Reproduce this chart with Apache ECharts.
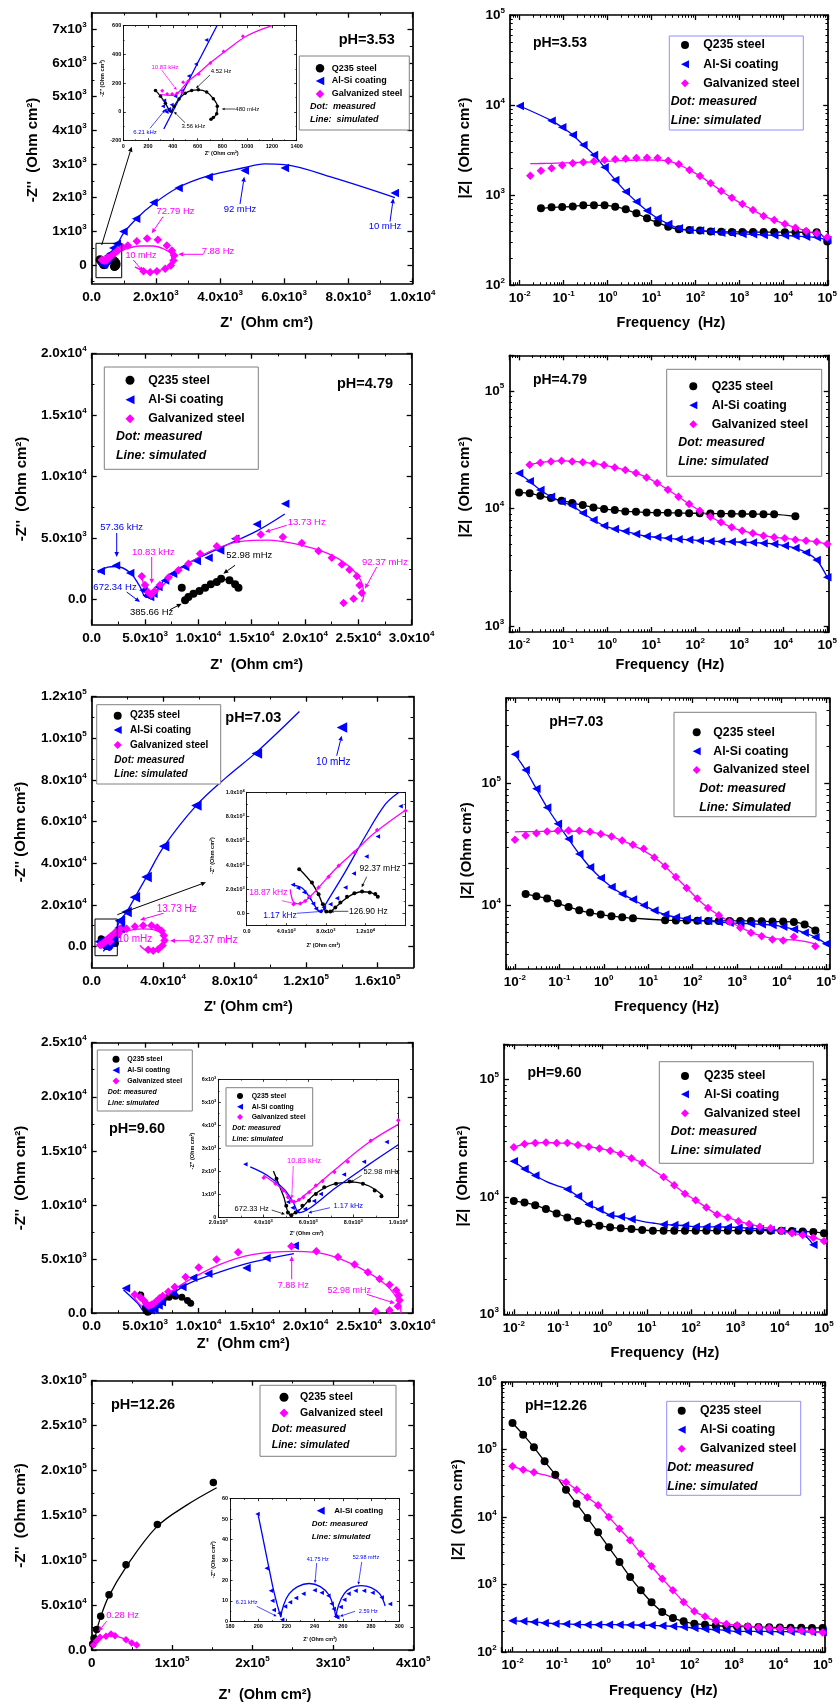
<!DOCTYPE html>
<html>
<head>
<meta charset="utf-8">
<script src="https://cdn.jsdelivr.net/npm/echarts@6.0.0/dist/echarts.min.js"></script>
<style>
html,body{margin:0;padding:0;background:#ffffff;}
#chart{width:840px;height:1704px;}
</style>
</head>
<body>
<div id="chart"></div>
<script>
// ================= DATA =================
// Frequencies of the EIS sweep (Hz), ascending
const FREQ = [0.01,0.0174,0.0304,0.053,0.0924,0.161,0.28,0.489,0.853,1.49,2.59,4.52,7.88,13.73,23.95,41.75,72.79,126.9,221.2,385.66,672.34,1170,2040,3560,6210,10830,18870,32900,57360,100000];

// ---- pH 3.53 Nyquist (inset: low impedance region) ----
const n1i_Q235 = [[260,150],[300,110],[340,60],[370,15],[385,5],[410,40],[450,90],[500,130],[552,150],[606,154],[673,139],[727,92],[759,39],[754,-12],[727,-39],[708,-51]];
const n1i_AlSi = [[330,80],[320,40],[335,10],[350,0],[370,20],[390,50],[420,110],[475,148],[528,250],[587,333],[670,500]];
const n1i_AlSi_sim = [[327,-119],[450,88],[600,340],[756,600]];
const n1i_Galv = [[314,148],[354,125],[394,125],[434,130],[475,137],[483,206],[523,213],[609,264],[703,340],[810,421],[966,526]];
const n1i_Galv_sim = [[290,120],[400,115],[450,140],[520,210],[600,265],[700,340],[850,440],[1000,530],[1200,600]];
const n1_AlSi = [[520,277],[780,626],[990,992],[1384,1370],[1926,1856],[2707,2282],[3645,2610],[4770,2809],[6020,2878],[9447,2133]];
const n1_AlSi_sim = [[290,-100],[500,250],[800,620],[1000,950],[1400,1380],[1950,1830],[2700,2300],[3650,2650],[4700,2880],[5400,3000],[6000,2980],[7500,2600],[9450,2000]];
const n1_Galv = [[781,405],[1125,575],[1406,703],[1728,784],[2062,745],[2344,575],[2500,426],[2572,277],[2550,128],[2469,-21],[2291,-119],[2031,-190],[1822,-220],[1614,-190]];
const n1_Galv_sim = [[300,130],[700,330],[1100,480],[1500,560],[1900,560],[2250,470],[2480,300],[2500,100],[2400,-50],[2150,-160],[1850,-200],[1550,-150],[1350,-60]];

// ---- pH 3.53 Bode |Z| per FREQ index ----
const b1_Q235 = [null,null,711,730,737,745,767,767,767,741,693,625,551,493,445,416,408,402,392,390,389,388,388,387,387,386,386,385,385,305];
const b1_AlSi = [9750,null,null,6700,5650,4640,3590,2780,2030,1470,1090,843,670,551,477,427,408,402,392,381,375,369,366,360,357,355,350,344,339,316];
const b1_Galv = [null,1640,1860,1977,2140,2250,2306,2366,2449,2490,2520,2577,2595,2577,2405,2192,1897,1626,1349,1108,933,794,681,585,527,476,434,398,375,339];
const b1_Galv_sim = [null,2230,2240,2250,2270,2290,2310,2330,2360,2390,2420,2440,2450,2440,2380,2180,1900,1620,1350,1110,930,790,680,585,525,475,434,398,370,335];

// ---- pH 4.79 Nyquist ----
const n3_Q235 = [[8443,976],[8756,-54],[9068,217],[9537,488],[10100,705],[10632,976],[11163,1247],[11726,1436],[12133,1707],[12915,1572],[13446,1247],[13759,976]];
const n3_Q235_sim = [[8750,-100],[9500,500],[10600,1000],[11700,1450],[12500,1650],[13300,1350],[13760,950]];
const n3_AlSi = [[844,2330],[2280,2790],[3600,2170],[4850,760],[5160,350],[5470,220],[5780,490],[6250,1030],[6880,1570],[7630,2110],[8760,2660],[9850,3140],[10950,3420],[12040,4010],[13450,4960],[15480,6130],[18140,7810]];
const n3_AlSi_sim = [[600,2200],[1500,2650],[2300,2700],[3600,2200],[4500,1100],[5100,200],[5600,250],[7000,1800],[9000,2950],[12000,4200],[15500,5600],[18100,6970]];
const n3_Galv = [[4690,1900],[5000,1200],[5300,600],[5550,400],[5900,700],[6400,1200],[7200,1800],[8130,2390],[9070,2930],[10160,3740],[11730,4340],[13600,4960],[15850,5310],[17920,5100],[19700,4610],[21260,3960],[22510,3420],[23450,2870],[24170,2440],[24860,1900],[25110,1170],[25330,540],[24550,80],[23610,-270]];
const n3_Galv_sim = [[4700,1900],[5300,400],[5700,450],[8000,2300],[11000,3900],[14000,4750],[16500,4850],[19000,4550],[22000,3800],[24000,2800],[25200,1600],[25500,300],[25300,-200]];

// ---- pH 4.79 Bode ----
const b2_Q235 = [13740,13490,12880,12300,11700,11170,10740,10260,9940,9750,9490,9420,9300,9260,9230,9200,9160,9140,9120,9080,9060,9040,9000,8980,8960,null,8610,null,null,null];
const b2_AlSi = [19950,17060,14400,12640,11450,10590,9180,8020,7180,6730,6430,6100,5830,5720,5610,5520,5460,5360,5300,5270,5240,5200,5170,5100,5030,4860,4640,4260,3670,2620];
const b2_Galv = [null,23600,24560,25180,25530,25180,24730,24230,23460,22410,21260,20050,18430,16500,14490,12640,10960,9620,8550,7660,6950,6510,6180,5900,5720,5610,5460,5360,5240,5010];

// ---- pH 7.03 Nyquist (inset) ----
const n5i_Q235 = [[5307,3664],[6591,2562],[7267,1598],[7706,771],[8044,165],[8450,165],[8957,496],[9464,909],[10140,1378],[10884,1681],[11661,1818],[12438,1736],[13000,1620],[13250,1380]];
const n5i_Q235_sim = [[5300,3700],[6600,2500],[7300,1500],[7800,500],[8100,100],[8600,250],[9500,900],[10500,1500],[11600,1800],[12500,1750],[13250,1400]];
const n5i_AlSi = [[4660,2370],[5200,2100],[5800,1750],[6300,1300],[6700,800],[7000,400],[7400,200],[7800,500],[8450,770],[9130,1270],[9970,2150],[10820,3310],[12100,4710],[13250,6360],[15550,8840]];
const n5i_AlSi_sim = [[4660,2370],[5600,2100],[6400,1300],[7000,500],[7500,100],[8000,800],[10000,3500],[12000,6400],[14000,9000],[15400,10000]];
const n5i_Galv = [[4732,771],[5408,827],[5915,1047],[6354,1378],[7267,2149],[8281,3031],[9295,3940],[10884,5042],[13182,6888],[16055,8486]];
const n5i_Galv_sim = [[4400,2000],[4700,1000],[5200,800],[6000,1100],[7000,1900],[9000,3700],[11000,5200],[13000,6700],[16000,8500]];
const n5_AlSi = [[15810,12370],[19530,16540],[24180,23610],[30690,33400],[40550,48180],[58590,67770],[92440,92670],[140060,105190]];
const n5_AlSi_sim = [[6500,-2400],[12000,5000],[15810,12370],[19530,16540],[24180,23610],[30690,33400],[40550,48180],[58590,67770],[75000,81000],[92440,93500],[116250,112900]];
const n5_Galv = [[10230,2409],[14880,5942],[19530,8512],[24180,9636],[28830,10118],[33480,10118],[36642,9154],[39060,7548],[40362,5300],[40734,2891],[39618,482],[37200,-1285],[34410,-2088],[31620,-1606]];
const n5_Galv_sim = [[5000,0],[12000,4500],[20000,7500],[28000,8500],[35000,8000],[40000,5000],[40000,1000],[36000,-1800],[31000,-1800],[27000,500]];

// ---- pH 7.03 Bode ----
const b3_Q235 = [null,12380,11860,11330,10370,9680,9090,8700,8390,8130,7980,7830,null,null,7540,7500,7480,7460,7440,7440,7440,7440,7440,7400,7350,7350,7300,6950,6210,null];
const b3_AlSi = [172600,128500,89960,63270,46540,34870,26300,20470,16720,14130,12380,11130,10000,9040,8390,7980,7730,7540,7440,7270,7180,7110,7050,6970,6900,6650,6340,5940,5470,4830];
const b3_Galv = [34440,37330,39000,40240,40800,41000,40830,40000,38300,36640,33970,31320,29050,24660,20830,17050,13870,11340,9500,8280,7310,6530,5940,5580,5240,5140,5510,null,4620,null];
const b3_Galv_sim = [40000,40100,40200,40300,40400,40400,40300,39800,38500,36500,33800,31000,28000,24600,20800,17000,13900,11300,9500,8300,7350,6600,6000,5600,5350,5250,5200,5050,4800,null];

// ---- pH 9.60 Nyquist (inset) ----
const n7i_Q235 = [[4587,1670],[5020,488],[5095,192],[5244,74],[5439,192],[5737,488],[6037,709],[6336,1005],[6709,1300],[7232,1448],[7831,1552],[8428,1448],[8952,1153],[9251,902]];
const n7i_Q235_sim = [[4450,2000],[4900,900],[5200,100],[5600,300],[6300,1000],[7200,1450],[8000,1520],[8700,1350],[9300,950]];
const n7i_AlSi = [[3200,2300],[5100,650],[5300,400],[5500,250],[5850,350],[6250,700],[6550,1000],[7580,1850],[8470,2410],[9480,3270]];
const n7i_AlSi_sim = [[3420,2187],[4168,1818],[4915,1227],[5334,636],[5588,192],[6111,414],[7158,1227],[8653,2261],[9998,3148]];
const n7i_Galv = [[4018,1714],[4542,1448],[4885,1153],[5095,857],[5244,709],[5364,665],[5588,754],[5782,857],[6037,1079],[6336,1375],[6634,1567],[7158,1966],[7756,2409],[8772,3326],[9998,4212]];
const n7i_Galv_sim = [[4018,1818],[4915,1153],[5334,636],[5812,931],[7158,2040],[8653,3222],[9998,4035]];
const n7_AlSi = [[10890,3640],[14460,4170],[16330,5090],[18970,6230]];
const n7_AlSi_sim = [[2960,2160],[4300,900],[5000,100],[5600,300],[7000,1400],[9000,2700],[12000,3800],[15000,4700],[18900,5500]];
const n7_Galv = [[11663,4938],[13684,5617],[18660,6172],[20993,5709],[23014,5185],[24569,4475],[25813,3765],[26902,3148],[27835,2623],[28457,2098],[28700,1650],[28768,1173],[28612,617],[27835,247],[26528,154]];
const n7_Galv_sim = [[4000,1400],[5000,500],[5500,700],[7000,1700],[9000,3000],[12000,4500],[15000,5400],[19000,5700],[22000,5400],[25000,4200],[27500,2600],[28800,800],[28900,0]];

// ---- pH 9.60 Bode ----
const b4_Q235 = [9250,8950,8510,7880,7230,6690,6230,5950,5690,5510,5400,5330,5230,5160,5160,5160,5160,5160,5160,5160,5160,5160,5160,5160,5160,5160,5120,5080,5040,4900];
const b4_AlSi = [20140,17340,15230,null,null,11610,10140,8610,7810,7000,6780,6470,null,null,5830,5760,5700,5570,5570,5570,5530,5500,5400,5330,5230,5160,5060,4870,3910,null];
const b4_AlSi_sim = [20140,17340,15230,13600,12500,11610,10140,8610,7810,7000,6780,6470,6200,6000,5830,5760,5700,5570,5570,5570,5530,5500,5400,5330,5230,5160,5060,4870,3910,null];
const b4_Galv = [26500,28270,28800,29170,28800,28800,27680,26790,25930,24780,23230,21370,19510,null,14770,12560,10670,9370,8130,7090,6690,6220,5870,5580,5400,5130,4900,4740,4500,4220];
const b4_Galv_sim = [26500,28270,28800,29170,28800,28800,27680,26790,25930,24780,23230,21370,19510,17000,14770,12560,10670,9370,8130,7090,6690,6220,5870,5580,5400,5130,4900,4740,4500,4220];

// ---- pH 12.26 Nyquist ----
const n9_Q235 = [[1240,6700],[2900,13040],[6218,22730],[11190,37640],[21550,61500],[42690,95040],[81660,139760],[151300,186700]];
const n9_Q235_sim = [[1240,1860],[6218,21620],[10360,34660],[20730,58890],[42690,92430],[80830,137150],[118130,161380],[155430,180760]];
const n9_Galv = [[2070,5590],[6220,10440],[10360,14160],[17820,15280],[24040,17890],[29000,16000],[42690,11550],[49740,7830],[55960,5590]];
const n9i_AlSi = [[199.5,52.5],[206,26],[209,15],[210,10],[211,5.5],[215,4],[217,0.8],[219,7.3],[222.5,9.3],[226.8,11.4],[232,13.5],[240,15.2],[245,14],[249.7,12.5],[252,8.6],[253.5,6],[255,2.4],[256,2],[258.4,7],[261,10.5],[264,13.5],[269,15],[275,15],[281,14],[287.5,11.7],[293.4,8.5]];
const n9i_sim_a = [[200,52],[205,35],[210,18],[213.5,8],[216,2]];
const n9i_sim_b = [[216,2],[218,8],[222,13.5],[228,17],[236,18.5],[244,17],[250,13],[253.5,7],[255,2]];
const n9i_sim_c = [[255,2],[257,8],[261,13.5],[266,16.5],[273,17.5],[280,16.5],[286,13.5],[290,7.5]];

// ---- pH 12.26 Bode ----
const b5_Q235 = [247000,166000,107700,66800,42400,25400,15760,9670,5930,3550,2155,1290,820,545,392,319,285,263,254,245,240,238,236,234,232,230,229,228,227,227];
const b5_AlSi = [291,285,279,269,263,260,256,254,254,254,254,252,250,248,245,240,234,227,219,214,210,202,202,202,201,200,200,199,198,198];
const b5_Galv = [56400,50300,45900,null,null,32700,25400,19560,14890,10000,6720,4510,2860,1860,1220,820,551,400,337,285,260,248,240,232,227,222,214,207,202,195];
const b5_Galv_sim = [56400,50300,45900,42000,37500,32700,25400,19560,14890,10000,6720,4510,2860,1860,1220,820,551,400,337,285,260,248,240,232,227,222,214,207,202,195];

// ---- tick values ----
const p1X = [0,2000,4000,6000,8000,10000], p1Xm = [1000,3000,5000,7000,9000];
const p1Y = [0,1000,2000,3000,4000,5000,6000,7000], p1Ym = [-500,500,1500,2500,3500,4500,5500,6500];
const p3X = [0,5000,10000,15000,20000,25000,30000], p3Xm = [2500,7500,12500,17500,22500,27500];
const p3Y = [0,5000,10000,15000,20000], p3Ym = [2500,7500,12500,17500];
const p5X = [0,40000,80000,120000,160000], p5Xm = [20000,60000,100000,140000];
const p5Y = [0,20000,40000,60000,80000,100000,120000], p5Ym = [10000,30000,50000,70000,90000,110000];
const p7Y = [0,5000,10000,15000,20000,25000], p7Ym = [2500,7500,12500,17500,22500];
const p9X = [0,100000,200000,300000,400000], p9Xm = [50000,150000,250000,350000];
const p9Y = [0,50000,100000,150000,200000,250000,300000], p9Ym = [25000,75000,125000,175000,225000,275000];
const i1X = [0,200,400,600,800,1000,1200,1400], i1Xm = [100,300,500,700,900,1100,1300];
const i1Y = [-200,0,200,400,600], i1Ym = [-100,100,300,500];
const i3X = [0,4000,8000,12000], i3Xm = [2000,6000,10000,14000];
const i3Y = [0,2000,4000,6000,8000,10000], i3Ym = [1000,3000,5000,7000,9000];
const i4X = [2000,4000,6000,8000,10000], i4Xm = [3000,5000,7000,9000];
const i4Y = [0,1000,2000,3000,4000,5000,6000], i4Ym = [500,1500,2500,3500,4500,5500];
const i5X = [180,200,220,240,260,280,300], i5Xm = [190,210,230,250,270,290];
const i5Y = [0,10,20,30,40,50,60], i5Ym = [5,15,25,35,45,55];

// ================= BUILD =================
const FONT = '"Liberation Sans", Arial, Helvetica, sans-serif';
const BLACK = '#000000', BLUE = '#0000ff', MAG = '#ff00ff';
const option = {animation:false, backgroundColor:'#ffffff', grid:[], xAxis:[], yAxis:[], series:[], graphic:[]};
const G = option.graphic;

function richFor(fs){
  return {
    b:{fontSize:fs, fontWeight:'bold', fontFamily:FONT, color:'#000', lineHeight:Math.round(fs*1.25)},
    s:{fontSize:Math.max(4,Math.round(fs*0.62)), fontWeight:'bold', fontFamily:FONT, color:'#000', verticalAlign:'top', lineHeight:Math.round(fs*0.7)}
  };
}
function sciF(dec, zero){
  return function(v){
    if (Math.abs(v) < 1e-9) return '{b|' + zero + '}';
    const e = Math.floor(Math.log10(Math.abs(v)) + 1e-9);
    const m = v / Math.pow(10, e);
    return '{b|' + m.toFixed(dec) + 'x10}{s|' + e + '}';
  };
}
function plainF(v){ return '{b|' + Math.round(v) + '}'; }
function logF(v){
  const l = Math.log10(v);
  if (Math.abs(l - Math.round(l)) > 1e-6) return '';
  return '{b|10}{s|' + Math.round(l) + '}';
}
function logMinor(min, max){
  const out = [];
  for (let d = -3; d <= 6; d++) for (let k = 2; k <= 9; k++) { const v = k*Math.pow(10,d); if (v > min*1.0001 && v < max*0.9999) out.push(v); }
  return out;
}
const MAIN = {lw:1.7, tl:5, tw:1.3, fs:13.5, margin:5};
const INS = {lw:0.9, tl:2.5, tw:0.8, fs:5.5, margin:2};
function vs(min, max, major, minor, fmt, base){ return Object.assign({type:'value', min, max, major, minor, fmt}, base); }
function ls(min, max, base){ return Object.assign({type:'log', min, max, major:null, minor:logMinor(min,max), fmt:logF}, base); }

function addAxes(list, gi, s, dim, z){
  const pos = dim === 'x' ? ['bottom','top'] : ['left','right'];
  const first = list.length;
  pos.forEach(function(p, k){
    const ax = {gridIndex:gi, type:s.type, position:p, min:s.min, max:s.max, z:z, silent:true,
      splitLine:{show:false}, splitArea:{show:false}, minorTick:{show:false}, minorSplitLine:{show:false},
      axisLine:{show:true, onZero:false, lineStyle:{color:'#000', width:s.lw}},
      axisTick:{show:true, inside:true, length:s.tl, lineStyle:{color:'#000', width:s.tw}},
      axisLabel:{show:k===0, formatter:s.fmt, margin:s.margin, fontSize:s.fs, fontWeight:'bold', fontFamily:FONT, color:'#000', rich:richFor(s.fs)}};
    if (s.type === 'log') ax.logBase = 10;
    if (s.major) { ax.axisTick.customValues = s.major; ax.axisLabel.customValues = s.major; }
    list.push(ax);
  });
  if (s.minor && s.minor.length) pos.forEach(function(p){
    const isLog = s.type === 'log';
    list.push({gridIndex:gi, type:'value', position:p, z:z, silent:true,
      min: isLog ? Math.log10(s.min) : s.min, max: isLog ? Math.log10(s.max) : s.max,
      axisLine:{show:false, onZero:false}, splitLine:{show:false}, axisLabel:{show:false},
      axisTick:{show:true, inside:true, length:s.tl*0.55, customValues: isLog ? s.minor.map(Math.log10) : s.minor, lineStyle:{color:'#000', width:s.tw*0.8}}});
  });
  return first;
}
function panel(rect, xs, ys, inset){
  const gi = option.grid.length;
  const z = inset ? 10 : 0;
  option.grid.push({left:rect[0], top:rect[1], width:rect[2]-rect[0], height:rect[3]-rect[1], show:!!inset, backgroundColor:'#ffffff', borderWidth:0, z:z});
  const xi = addAxes(option.xAxis, gi, xs, 'x', z+1);
  const yi = addAxes(option.yAxis, gi, ys, 'y', z+1);
  return {xi:xi, yi:yi, z:z};
}
const KIND = {
  Q:{name:'Q235 steel', color:BLACK, symbol:'circle', rot:0},
  A:{name:'Al-Si coating', color:BLUE, symbol:'triangle', rot:90},
  G:{name:'Galvanized steel', color:MAG, symbol:'diamond', rot:0}
};
function sc(p, kind, data, size){
  const k = KIND[kind];
  option.series.push({type:'scatter', name:k.name, xAxisIndex:p.xi, yAxisIndex:p.yi, data:data,
    symbol:k.symbol, symbolRotate:k.rot, symbolSize:size, itemStyle:{color:k.color, opacity:1},
    z:p.z+3, clip:false, silent:true});
}
function ln(p, kind, data, smooth){
  const k = KIND[kind];
  option.series.push({type:'line', name:k.name + ' (simulated)', xAxisIndex:p.xi, yAxisIndex:p.yi, data:data,
    showSymbol:false, symbol:'none', smooth:(smooth == null ? 0.35 : smooth), lineStyle:{color:k.color, width:1.3},
    z:p.z+2, clip:true, silent:true});
}
function bode(arr){ return arr.map(function(v,i){ return v == null ? null : [FREQ[i], v]; }).filter(function(d){ return d; }); }

// graphic helpers (annotations, legends, titles)
function T(x, y, text, o){
  o = o || {};
  G.push({type:'text', x:x, y:y, rotation:o.rot || 0, z:30, silent:true,
    style:{text:text, fill:o.color || '#000', font:(o.italic ? 'italic ' : '') + (o.bold ? 'bold ' : '') + (o.size || 12) + 'px ' + FONT,
      align:o.align || 'center', verticalAlign:'middle'}});
}
function A(x1, y1, x2, y2, color, hs){
  hs = hs || 5;
  const ang = Math.atan2(y2-y1, x2-x1);
  const bx = x2 - hs*Math.cos(ang), by = y2 - hs*Math.sin(ang);
  const w = hs*0.45, px = -Math.sin(ang)*w, py = Math.cos(ang)*w;
  G.push({type:'line', z:30, silent:true, shape:{x1:x1, y1:y1, x2:bx, y2:by}, style:{stroke:color, lineWidth:hs > 4 ? 1 : 0.7}});
  G.push({type:'polygon', z:30, silent:true, shape:{points:[[x2,y2],[bx+px,by+py],[bx-px,by-py]]}, style:{fill:color}});
}
function R(x0, y0, x1, y1, stroke, lw){
  G.push({type:'rect', z:30, silent:true, shape:{x:x0, y:y0, width:x1-x0, height:y1-y0}, style:{fill:'none', stroke:stroke, lineWidth:lw || 1}});
}
function S(kind, cx, cy, s){
  const c = KIND[kind].color, h = s/2;
  if (kind === 'Q') G.push({type:'circle', z:31, silent:true, shape:{cx:cx, cy:cy, r:h}, style:{fill:c}});
  else if (kind === 'A') G.push({type:'polygon', z:31, silent:true, shape:{points:[[cx-h,cy],[cx+h,cy-h],[cx+h,cy+h]]}, style:{fill:c}});
  else G.push({type:'polygon', z:31, silent:true, shape:{points:[[cx,cy-h],[cx+h,cy],[cx,cy+h],[cx-h,cy]]}, style:{fill:c}});
}
function LEG(box, border, kinds, sx, sys, tx, notes, nx, nys, fs, ss){
  if (box) G.push({type:'rect', z:29, silent:true, shape:{x:box[0], y:box[1], width:box[2]-box[0], height:box[3]-box[1]}, style:{fill:'#ffffff', stroke:border, lineWidth:1}});
  kinds.forEach(function(k, i){ S(k, sx, sys[i], ss); T(tx, sys[i], KIND[k].name, {align:'left', size:fs, bold:true}); });
  notes.forEach(function(n, i){ T(nx, nys[i], n, {align:'left', size:fs, italic:true, bold:true}); });
}

// ---------- Panel 1: pH 3.53 Nyquist ----------
const p1 = panel([91.7,12.7,412.5,283.3], vs(0,10000,p1X,p1Xm,sciF(1,'0.0'),MAIN), vs(-550,7500,p1Y,p1Ym,sciF(0,'0'),MAIN), false);
ln(p1,'Q',n1i_Q235); ln(p1,'A',n1_AlSi_sim); ln(p1,'G',n1_Galv_sim);
sc(p1,'Q',n1i_Q235,9); sc(p1,'A',n1i_AlSi.concat(n1_AlSi),8.5); sc(p1,'G',n1i_Galv.concat(n1_Galv),8.5);
const i1 = panel([123.3,25.7,296.7,140.7], vs(0,1400,i1X,i1Xm,plainF,INS), vs(-200,600,i1Y,i1Ym,plainF,INS), true);
ln(i1,'Q',n1i_Q235); ln(i1,'A',n1i_AlSi_sim); ln(i1,'G',n1i_Galv_sim);
sc(i1,'Q',n1i_Q235,3.5); sc(i1,'A',n1i_AlSi,4); sc(i1,'G',n1i_Galv,4);

// ---------- Panel 2: pH 3.53 Bode ----------
const p2 = panel([510,15,831.7,285], ls(0.006,105000,MAIN), ls(100,100000,MAIN), false);
ln(p2,'Q',bode(b1_Q235)); ln(p2,'A',bode(b1_AlSi)); ln(p2,'G',bode(b1_Galv_sim));
sc(p2,'Q',bode(b1_Q235),8); sc(p2,'A',bode(b1_AlSi),8.5); sc(p2,'G',bode(b1_Galv),8.5);

// ---------- Panel 3: pH 4.79 Nyquist ----------
const p3 = panel([91.7,353.7,411.7,624.3], vs(0,30000,p3X,p3Xm,sciF(1,'0.0'),MAIN), vs(-2000,20000,p3Y,p3Ym,sciF(1,'0.0'),MAIN), false);
ln(p3,'Q',n3_Q235_sim); ln(p3,'A',n3_AlSi_sim); ln(p3,'G',n3_Galv_sim);
sc(p3,'Q',n3_Q235,8); sc(p3,'A',n3_AlSi,8.5); sc(p3,'G',n3_Galv,8.5);

// ---------- Panel 4: pH 4.79 Bode ----------
const p4 = panel([509.3,355.3,830.7,632], ls(0.006,108000,MAIN), ls(900,200000,MAIN), false);
ln(p4,'Q',bode(b2_Q235)); ln(p4,'A',bode(b2_AlSi)); ln(p4,'G',bode(b2_Galv));
sc(p4,'Q',bode(b2_Q235),8); sc(p4,'A',bode(b2_AlSi),8.5); sc(p4,'G',bode(b2_Galv),8.5);

// ---------- Panel 5: pH 7.03 Nyquist ----------
const p5 = panel([91.7,696.7,413.3,967.3], vs(0,180000,p5X,p5Xm,sciF(1,'0.0'),MAIN), vs(-10000,120000,p5Y,p5Ym,sciF(1,'0.0'),MAIN), false);
ln(p5,'Q',n5i_Q235_sim); ln(p5,'A',n5_AlSi_sim); ln(p5,'G',n5_Galv_sim);
sc(p5,'Q',n5i_Q235,7); sc(p5,'A',n5i_AlSi.concat(n5_AlSi),10.5); sc(p5,'G',n5i_Galv.concat(n5_Galv),8.5);
const i3 = panel([246.7,792.3,405,925.7], vs(0,16000,i3X,i3Xm,sciF(1,'0.0'),INS), vs(-1000,10000,i3Y,i3Ym,sciF(1,'0.0'),INS), true);
ln(i3,'Q',n5i_Q235_sim); ln(i3,'A',n5i_AlSi_sim); ln(i3,'G',n5i_Galv_sim);
sc(i3,'Q',n5i_Q235,4); sc(i3,'A',n5i_AlSi,4.5); sc(i3,'G',n5i_Galv,4.5);

// ---------- Panel 6: pH 7.03 Bode ----------
const p6 = panel([506,698,829.3,969], ls(0.0063,118000,MAIN), ls(3000,500000,MAIN), false);
ln(p6,'Q',bode(b3_Q235)); ln(p6,'A',bode(b3_AlSi)); ln(p6,'G',bode(b3_Galv_sim));
sc(p6,'Q',bode(b3_Q235),8); sc(p6,'A',bode(b3_AlSi),8.5); sc(p6,'G',bode(b3_Galv),8.5);

// ---------- Panel 7: pH 9.60 Nyquist ----------
const p7 = panel([91.7,1042.7,412.7,1313], vs(0,30000,p3X,p3Xm,sciF(1,'0.0'),MAIN), vs(0,25000,p7Y,p7Ym,sciF(1,'0.0'),MAIN), false);
ln(p7,'Q',n7i_Q235_sim); ln(p7,'A',n7_AlSi_sim); ln(p7,'G',n7_Galv_sim);
sc(p7,'Q',n7i_Q235,7); sc(p7,'A',n7i_AlSi.concat(n7_AlSi),8.5); sc(p7,'G',n7i_Galv.concat(n7_Galv),8.5);
const i4 = panel([218.3,1079.3,398.3,1217], vs(2000,10000,i4X,i4Xm,sciF(1,'0.0'),INS), vs(0,6000,i4Y,i4Ym,sciF(0,'0'),INS), true);
ln(i4,'Q',n7i_Q235_sim); ln(i4,'A',n7i_AlSi_sim); ln(i4,'G',n7i_Galv_sim);
sc(i4,'Q',n7i_Q235,4); sc(i4,'A',n7i_AlSi,4.5); sc(i4,'G',n7i_Galv,4.5);

// ---------- Panel 8: pH 9.60 Bode ----------
const p8 = panel([504,1044.3,826.7,1314.3], ls(0.006,115000,MAIN), ls(1000,200000,MAIN), false);
ln(p8,'Q',bode(b4_Q235)); ln(p8,'A',bode(b4_AlSi_sim)); ln(p8,'G',bode(b4_Galv_sim));
sc(p8,'Q',bode(b4_Q235),8); sc(p8,'A',bode(b4_AlSi),8.5); sc(p8,'G',bode(b4_Galv),8.5);

// ---------- Panel 9: pH 12.26 Nyquist ----------
const p9 = panel([91.7,1380.7,413.3,1650], vs(0,400000,p9X,p9Xm,sciF(0,'0'),MAIN), vs(0,300000,p9Y,p9Ym,sciF(1,'0.0'),MAIN), false);
ln(p9,'Q',n9_Q235_sim); ln(p9,'G',n9_Galv);
sc(p9,'Q',n9_Q235,7.5); sc(p9,'G',n9_Galv,7.5);
const i5 = panel([230,1498.7,399.3,1621.3], vs(180,300,i5X,i5Xm,plainF,INS), vs(0,60,i5Y,i5Ym,plainF,INS), true);
ln(i5,'A',n9i_sim_a,0.2); ln(i5,'A',n9i_sim_b,0.4); ln(i5,'A',n9i_sim_c,0.4);
sc(i5,'A',n9i_AlSi,4.5);

// ---------- Panel 10: pH 12.26 Bode ----------
const p10 = panel([501.7,1382,825,1652], ls(0.0057,113000,MAIN), ls(100,1000000,MAIN), false);
ln(p10,'Q',bode(b5_Q235)); ln(p10,'A',bode(b5_AlSi)); ln(p10,'G',bode(b5_Galv_sim));
sc(p10,'Q',bode(b5_Q235),8); sc(p10,'A',bode(b5_AlSi),8.5); sc(p10,'G',bode(b5_Galv),8.5);

// ---------- axis titles ----------
const TF = 14.5;
[[33,150],[21.7,489],[20.7,832],[20.7,1178],[20.7,1515.5]].forEach(function(p, i){
  T(p[0], p[1], i === 2 ? "-Z'' (Ohm cm\u00B2)" : "-Z''  (Ohm cm\u00B2)", {rot:Math.PI/2, bold:true, size:15});
});
[[266.7,323.3],[256.7,665.3],[248.3,1007.3],[243.3,1344.3],[265,1694.7]].forEach(function(p, i){
  T(p[0], p[1], i === 2 ? "Z' (Ohm cm\u00B2)" : "Z'  (Ohm cm\u00B2)", {bold:true, size:TF});
});
[[465,148],[465,487],[466.7,850.7],[462.7,1176],[458.3,1509.7]].forEach(function(p, i){
  T(p[0], p[1], i === 2 ? "|Z| (Ohm cm\u00B2)" : "|Z|  (Ohm cm\u00B2)", {rot:Math.PI/2, bold:true, size:15});
});
[[671,322.7],[670,665.3],[666.7,1006.7],[665,1353.3],[663.3,1690.7]].forEach(function(p, i){
  T(p[0], p[1], i === 2 ? "Frequency (Hz)" : "Frequency  (Hz)", {bold:true, size:TF});
});
// inset titles
[[102.7,78.3],[212.7,855.7],[192.7,1151],[213.3,1559.7]].forEach(function(p){ T(p[0], p[1], "-Z'' (Ohm cm\u00B2)", {rot:Math.PI/2, bold:true, size:5.5}); });
[[221.7,153.3],[323.3,945.7],[306.7,1233.3],[320,1639.7]].forEach(function(p){ T(p[0], p[1], "Z' (Ohm cm\u00B2)", {bold:true, size:5.5}); });

// ---------- pH labels ----------
[[366.7,40,'pH=3.53'],[560,43.3,'pH=3.53'],[365,384.3,'pH=4.79'],[560,379.7,'pH=4.79'],[253.3,718.3,'pH=7.03'],
 [576.3,722.3,'pH=7.03'],[137,1128.7,'pH=9.60'],[554.5,1072.7,'pH=9.60'],[143,1405.3,'pH=12.26'],[556,1406.3,'pH=12.26']].forEach(function(p, i){
  T(p[0], p[1], p[2], {bold:true, size: (i % 2 === 0) ? 14.5 : 14});
});

// ---------- legends ----------
const GREY = '#808080', LBLUE = '#8f8fff';
LEG([299.3,56,409.3,130], GREY, ['Q','A','G'], 320, [68.3,81,94], 331.7, ['Dot:  measured','Line:  simulated'], 310, [106.7,119.3], 9, 8.5);
LEG([669.3,36,803.3,130], LBLUE, ['Q','A','G'], 685, [45,64.3,83.3], 703.3, ['Dot: measured','Line: simulated'], 670.7, [101.7,120.7], 12.3, 8);
LEG([104.3,367,258.3,469.3], GREY, ['Q','A','G'], 130, [380.3,399.7,418.7], 148.3, ['Dot: measured','Line: simulated'], 116, [437,456], 12.3, 9);
LEG([666.7,369.3,821.7,476.3], GREY, ['Q','A','G'], 693.3, [386.3,405.3,424.3], 711.7, ['Dot: measured','Line: simulated'], 678.3, [443,462], 12.3, 8);
LEG([96.7,704.7,220.7,784], GREY, ['Q','A','G'], 117.7, [715.7,730,745], 130, ['Dot: measured','Line: simulated'], 114.3, [760,774.7], 10, 8);
LEG([674,712.3,816,816.7], GREY, ['Q','A','G'], 696.7, [732.3,751.3,770], 713.3, ['Dot: measured','Line: Simulated'], 699.3, [789,807.3], 12.3, 8);
LEG([97.3,1050,192.3,1111], GREY, ['Q','A','G'], 116, [1059.3,1070.3,1081], 127.3, ['Dot: measured','Line: simulated'], 107.7, [1092,1102.7], 7, 7);
LEG([226,1087.7,312.7,1146], GREY, ['Q','A','G'], 240, [1096,1106.7,1117], 251.7, ['Dot: measured','Line: simulated'], 232.3, [1128,1138.7], 6.9, 6);
LEG([659.3,1061.7,813.3,1163.3], GREY, ['Q','A','G'], 685, [1076,1094.3,1113.3], 704, ['Dot: measured','Line: simulated'], 670.7, [1132,1151], 12.3, 8);
LEG([260,1385.3,396,1456.3], GREY, ['Q','G'], 284, [1397.3,1413], 300, ['Dot: measured','Line: simulated'], 271.7, [1428.7,1444.7], 10.6, 9);
LEG(null, null, ['A'], 320.7, [1510.7], 334.3, ['Dot: measured','Line: simulated'], 311.7, [1523.7,1536.3], 8, 8);
LEG([666.7,1401.3,800.7,1495.3], LBLUE, ['Q','A','G'], 681.7, [1410.7,1429.7,1448.7], 700, ['Dot: measured','Line: simulated'], 667.3, [1467.3,1486.3], 12.3, 8);

// ---------- annotations ----------
// panel 1
T(175.5,211.7,'72.79 Hz',{color:MAG,size:9.5}); A(163,216.7,151.7,233.3,MAG);
T(240,209.3,'92 mHz',{color:BLUE,size:9.5}); A(240,204,244.3,176.7,BLUE);
T(385,226.7,'10 mHz',{color:BLUE,size:9.5}); A(390,221.7,393.3,198.3,BLUE);
T(218,251.7,'7.88 Hz',{color:MAG,size:9.5}); A(203.3,254.3,178.3,254.3,MAG);
T(141,256,'10 mHz',{color:MAG,size:9}); A(133.3,260,143.3,271.7,MAG);
R(96,243.3,121.7,277.7,'#000',1); A(101.7,245,131.7,146.7,'#000');
// inset 1
T(165,67.3,'10.83 kHz',{color:MAG,size:6}); A(161.7,70,176.7,90,MAG,3);
T(221,71.7,'4.52 Hz',{size:6}); A(210,75,196,88.3,'#000',3);
T(247.3,109,'480 mHz',{size:6}); A(235,109,221.7,109,'#000',3);
T(193.3,126,'3.56 kHz',{size:6}); A(185,122.7,174,111.7,'#000',3);
T(145,132.7,'6.21 kHz',{color:BLUE,size:6}); A(150,128.3,165,110,BLUE,3);
// panel 3
T(121.7,527.7,'57.36 kHz',{color:BLUE,size:9.5}); A(116.7,533,116.7,557,BLUE);
T(153.3,552,'10.83 kHz',{color:MAG,size:9.5}); A(151.7,557,151.7,583.7,MAG);
T(115,587.7,'672.34 Hz',{color:BLUE,size:9.5}); A(126.7,592,140,602,BLUE);
T(151.7,612,'385.66 Hz',{size:9.5}); A(170,609.7,181.7,603.7,'#000');
T(249.3,555.3,'52.98 mHz',{size:9.5}); A(235,565.3,223.3,573.7,'#000');
T(306.7,522,'13.73 Hz',{color:MAG,size:9.5}); A(286.7,525.3,265,532,MAG);
T(385,562,'92.37 mHz',{color:MAG,size:9.5}); A(376.7,567,365,588.7,MAG);
// panel 5
T(333.3,762.3,'10 mHz',{color:BLUE,size:10}); A(336.7,755.7,341.7,735.7,BLUE);
T(176.7,909.7,'13.73 Hz',{color:MAG,size:10}); A(163.3,913.3,140,920,MAG);
T(135,939.7,'10 mHz',{color:MAG,size:10});
T(213.3,940.7,'92.37 mHz',{color:MAG,size:10}); A(191.7,940.7,170,940.7,MAG);
R(95,919,117.3,955.7,'#000',1); A(117.3,914.7,206,882.3,'#000');
// inset 3
T(380,869,'92.37 mHz',{size:8.5}); A(366.7,876.7,361.7,887.3,'#000',3.5);
T(268.3,892.3,'18.87 kHz',{color:MAG,size:8.5}); A(281.7,900.7,296.7,904,MAG,3.5);
T(280,915.7,'1.17 kHz',{color:BLUE,size:8.5}); A(296.7,913.3,323.3,911.3,BLUE,3.5);
T(368.3,911.3,'126.90 Hz',{size:8.5}); A(348.3,911.3,330,911.3,'#000',3.5);
// panel 7
T(293.3,1285.3,'7.88 Hz',{color:MAG,size:9}); A(291.7,1279.3,291.7,1256,MAG);
T(349.3,1291,'52.98 mHz',{color:MAG,size:9}); A(366.7,1294.3,395,1303.3,MAG);
// inset 4
T(304,1161,'10.83 kHz',{color:MAG,size:7.5}); A(293.3,1166,291.7,1198.7,MAG,3.5);
T(381.7,1171.7,'52.98 mHz',{size:7.5}); A(361.7,1175.3,350,1182.7,'#000',3.5);
T(251.7,1208.7,'672.33 Hz',{size:7.5}); A(271.7,1210,285,1214.3,'#000',3.5);
T(348.3,1206,'1.17 kHz',{color:BLUE,size:7.5}); A(330,1207.7,308.3,1212.7,BLUE,3.5);
// panel 9
T(122.7,1615.3,'0.28 Hz',{color:MAG,size:9.5}); A(106.7,1621.3,98.3,1631.3,MAG);
// inset 5
T(246.7,1602.3,'6.21 kHz',{color:BLUE,size:5.5}); A(256.7,1606.3,276.7,1616.3,BLUE,3);
T(317.7,1559,'41.75 Hz',{color:BLUE,size:5.5}); A(316.7,1563,315,1583,BLUE,3);
T(366,1557.3,'52.98 mHz',{color:BLUE,size:5.5}); A(361.7,1562,358.3,1584.7,BLUE,3);
T(368.3,1611.3,'2.59 Hz',{color:BLUE,size:5.5}); A(355,1611.3,340,1616.3,BLUE,3);

const chart = echarts.init(document.getElementById('chart'), null, {renderer:'canvas'});
chart.setOption(option);
</script>
</body>
</html>
